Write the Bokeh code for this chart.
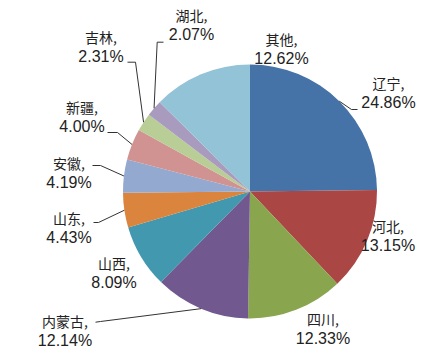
import math
from bokeh.plotting import figure
from bokeh.models import Range1d, ColumnDataSource
from bokeh.core.properties import value
from bokeh.embed import file_html
from bokeh.resources import INLINE

# ---- data ----
regions = ["辽宁", "河北", "四川", "内蒙古", "山西", "山东", "安徽", "新疆", "吉林", "湖北", "其他"]
shares = [24.86, 13.15, 12.33, 12.14, 8.09, 4.43, 4.19, 4.00, 2.31, 2.07, 12.62]
colors = ["#4572A7", "#AA4643", "#89A54E", "#71588F", "#4198AF", "#DB843D",
          "#93A9CF", "#D19392", "#B9CD96", "#A99BBD", "#93C3D6"]

# ---- layout (page pixels, y measured from top) ----
W, H = 435, 356
CX, CY, R = 249.5, H - 191, 127
# centre of the percentage line of each label
label_pos = {
    "辽宁": (388, 102), "河北": (387.5, 245), "四川": (322.5, 338), "内蒙古": (64.5, 340),
    "山西": (113.5, 282), "山东": (68.5, 237), "安徽": (68.5, 182), "新疆": (81.5, 126),
    "吉林": (100.5, 56), "湖北": (191, 34), "其他": (281, 58),
}
# leader line bend/end points after the slice edge point
leaders = {
    "辽宁": [(351, 109), (357, 109)],
    "湖北": [(156.7, 41.7), (163, 41.7)],
    "吉林": [(135, 61.7), (127, 61.7)],
    "新疆": [(117, 132), (107, 132)],
    "安徽": [(100, 165), (92, 165)],
    "山东": [(98, 222), (93, 222)],
    "内蒙古": [(100, 321), (95, 321.7)],
}

total = sum(shares)
starts, ends, mids = [], [], []
acc = 0.0
for s in shares:
    a, b = acc / total, (acc + s) / total
    starts.append(math.pi / 2 - 2 * math.pi * b)
    ends.append(math.pi / 2 - 2 * math.pi * a)
    mids.append(math.pi / 2 - 2 * math.pi * (a + b) / 2)
    acc += s

p = figure(width=W, height=H, x_range=Range1d(0, W), y_range=Range1d(0, H),
           output_backend="svg", toolbar_location=None, min_border=0,
           x_axis_location=None, y_axis_location=None)
p.grid.visible = False
p.outline_line_color = None
p.background_fill_color = "white"
p.border_fill_color = "white"

src = ColumnDataSource(dict(start=starts, end=ends, color=colors, region=regions))
p.wedge(x=CX, y=CY, radius=R, start_angle="start", end_angle="end",
        fill_color="color", line_color=None, source=src)

# leader lines
lx, ly = [], []
for i, name in enumerate(regions):
    if name in leaders:
        ex = CX + R * math.cos(mids[i])
        ey = CY + R * math.sin(mids[i])
        xs = [ex] + [pt[0] for pt in leaders[name]]
        ys = [ey] + [H - pt[1] for pt in leaders[name]]
        lx.append(xs)
        ly.append(ys)
p.multi_line(xs=lx, ys=ly, line_color="#333333", line_width=1)

# labels
name_x, name_y, name_t, pct_x, pct_y, pct_t = [], [], [], [], [], []
for name, s in zip(regions, shares):
    x, y = label_pos[name]
    name_x.append(x)
    name_y.append(H - (y - 20))
    name_t.append(name + ",")
    pct_x.append(x)
    pct_y.append(H - y)
    pct_t.append(f"{s:.2f}%")

p.text(x=name_x, y=name_y, text=name_t, text_align="center", text_baseline="middle",
       text_font=value("Noto Sans CJK SC"), text_font_size="14px", text_color="#222222")
p.text(x=pct_x, y=pct_y, text=pct_t, text_align="center", text_baseline="middle",
       text_font=value("Liberation Sans"), text_font_size="16px", text_color="#222222")

open("out.html", "w").write(file_html(p, INLINE))
